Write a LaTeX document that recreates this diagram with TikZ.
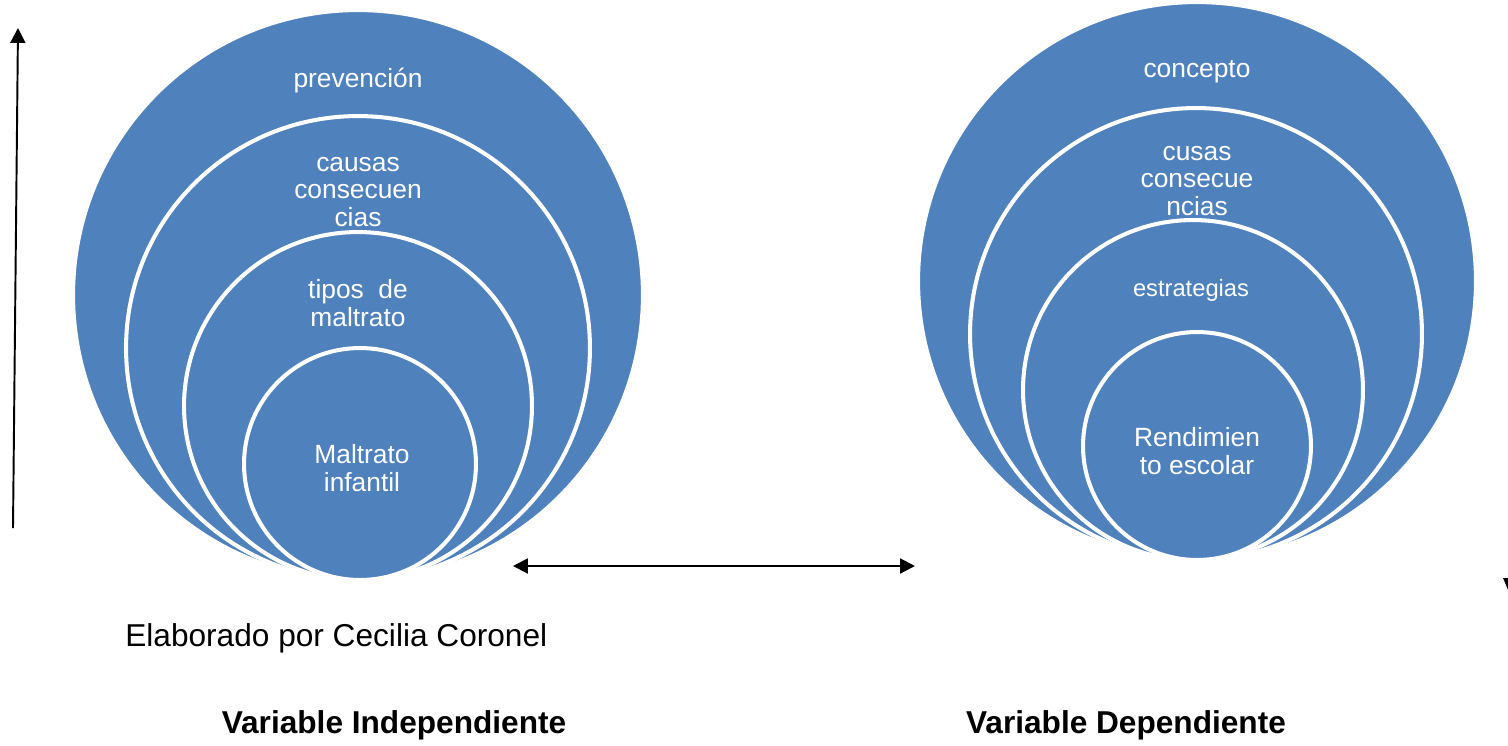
\documentclass[tikz,border=0pt]{standalone}
\usepackage{fontspec}
\setmainfont{Liberation Sans}
\usetikzlibrary{arrows.meta}
\definecolor{ringblue}{RGB}{79,129,189}
\tikzset{
  ring/.style={circle, fill=ringblue, draw=white, line width=2.3pt, inner sep=0pt, outer sep=0pt},
  ringtext/.style={text=white, align=center, inner sep=0pt, font=\fontsize{15}{15.6}\selectfont},
  caption/.style={inner sep=0pt, font=\fontsize{18}{21}\selectfont},
  linktip/.tip={Triangle[length=8.5pt, width=8.5pt]},
}
\begin{document}
\begin{tikzpicture}[x=0.02cm, y=-0.02cm]
        \useasboundingbox (0,0) rectangle (1508,745);

        %%left target
        \node[ring, minimum size=11.4cm] (prev) at (358,295) {};
        \node[ring, minimum size=9.28cm] (causas) at (358,348) {};
        \node[ring, minimum size=6.96cm] (tipos) at (358,406) {};
        \node[ring, minimum size=4.64cm] (maltrato) at (360,464) {};

        \node[ringtext] (prevtext) at (358,81) {prevención};
        \node[ringtext] (causastext) at (358,192) {causas\\consecuen\\cias};
        \node[ringtext] (tipostext) at (358,303) {tipos~~de\\maltrato};
        \node[ringtext] (maltratotext) at (362,468) {Maltrato\\infantil};

        %%right target
        \node[ring, minimum size=11.16cm] (concepto) at (1197,281) {};
        \node[ring, minimum size=9.04cm] (cusas) at (1196,334) {};
        \node[ring, minimum size=6.8cm] (estrategias) at (1193,390) {};
        \node[ring, minimum size=4.56cm] (rendimiento) at (1197,446) {};

        \node[ringtext] (conceptotext) at (1197,72) {concepto};
        \node[ringtext] (cusastext) at (1197,181) {cusas\\consecue\\ncias};
        \node[ringtext, font=\fontsize{13.5}{15}\selectfont] (estrategiastext) at (1191,290) {estrategias};
        \node[ringtext] (rendimientotext) at (1197,451) {Rendimien\\to escolar};

        %%arrows
        \coordinate (up0) at (13,528);
        \coordinate (up1) at (18,28);
            \draw[line width=1.1pt, -linktip] (up0) -- (up1);

        \coordinate (link0) at (513,566);
        \coordinate (link1) at (915,566);
            \draw[line width=1.2pt, linktip-linktip] (link0) -- (link1);

        \fill (1503,578) -- (1514,578) -- (1508.5,591) -- cycle;

        %%captions
        \node[caption, anchor=west] (autor) at (125,638) {Elaborado por Cecilia Coronel};
        \node[caption, font=\fontsize{18}{21}\selectfont\bfseries] (indep) at (394,725) {Variable Independiente};
        \node[caption, font=\fontsize{18}{21}\selectfont\bfseries] (dep) at (1126,725) {Variable Dependiente};

    \end{tikzpicture}
\end{document}
